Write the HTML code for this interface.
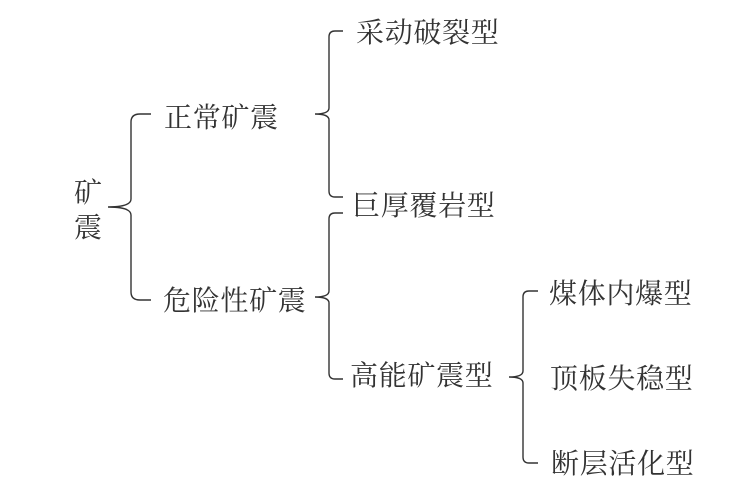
<!DOCTYPE html>
<html><head><meta charset="utf-8"><style>
html,body{margin:0;padding:0;background:#fff;width:730px;height:494px;overflow:hidden}
svg{display:block}
text{font-family:"Liberation Serif","Noto Serif CJK SC",serif;font-size:28px;fill:#333;letter-spacing:.7px}
path{fill:none;stroke:#333;stroke-width:1.4}
</style></head><body>
<svg width="730" height="494" viewBox="0 0 730 494">
<path d="M151 114H140Q131 114 131 122V199Q131 207 108 207Q131 207 131 215V292Q131 300 140 300H151"/>
<path d="M343 31H335Q329 31 329 37V108Q329 114 315 114Q329 114 329 120V191Q329 197 335 197H343"/>
<path d="M343 213H335Q329 213 329 219V291Q329 297 315 297Q329 297 329 303V373Q329 379 335 379H343"/>
<path d="M538 291H529Q523 291 523 297V371Q523 377 509 377Q523 377 523 383V457Q523 463 529 463H538"/>
<text x="74" y="202">矿</text>
<text x="74" y="237">震</text>
<text x="164" y="127">正常矿震</text>
<text x="163" y="310">危险性矿震</text>
<text x="356" y="42">采动破裂型</text>
<text x="352" y="215">巨厚覆岩型</text>
<text x="350" y="385">高能矿震型</text>
<text x="549" y="303">煤体内爆型</text>
<text x="550" y="388">顶板失稳型</text>
<text x="551" y="473">断层活化型</text>
</svg>
</body></html>
